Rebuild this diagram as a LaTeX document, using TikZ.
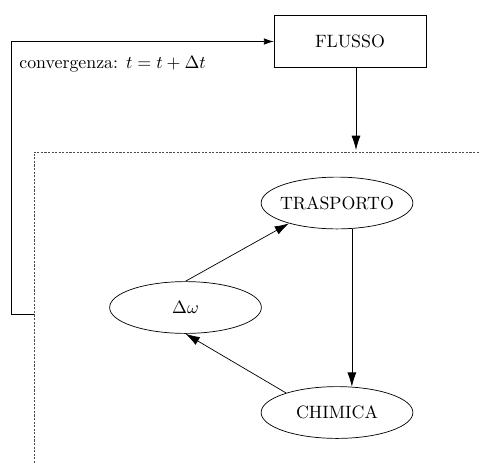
\documentclass[tikz,border=0pt]{standalone}
\usepackage{amsmath}
\usepackage{amssymb}
\usepackage{tikz}
\usetikzlibrary{shapes.geometric, arrows.meta}

\begin{document}
\begin{tikzpicture}[x=0.56pt, y=-0.56pt,
			stato/.style={draw, ellipse, minimum width=85pt, minimum height=29pt, inner ysep=0pt, inner xsep=-3pt},
			freccia/.style={-{Latex[length=8pt, width=5pt]}}]
			\useasboundingbox (0,0) rectangle (480,463);
			
			\node[draw, minimum width=85pt, minimum height=29.5pt] (flusso) at (350,41.5) {FLUSSO};
			\node[stato] (trasporto) at (337,203) {TRASPORTO};
			\node[stato] (domega) at (185.5,307.5) {$\Delta\omega$};
			\node[stato] (chimica) at (337,412.5) {CHIMICA};
			
			\coordinate (cin) at (356,150);
			\coordinate (cout) at (34,314);
			
			% blocco accoppiato
			\draw[gray!60!black, dash pattern=on 1.2pt off 0.8pt] (34,463) -- (34,152) -- (480,152);
			
			\draw[freccia] (flusso.south -| cin) -- (cin);
			\draw[-{Latex[length=5.5pt, width=3.6pt]}] (cout) -- ++(-23,0) |- (flusso.west);
			\node[anchor=base west, inner sep=0pt] (conv) at (19,68) {convergenza: $t=t+\Delta t$};
			
			\draw[freccia] (domega.north) -- (trasporto.203);
			\draw[freccia] (trasporto.300) -- (chimica.60);
			\draw[freccia] (chimica.159) -- (domega.south);
\end{tikzpicture}
\end{document}
